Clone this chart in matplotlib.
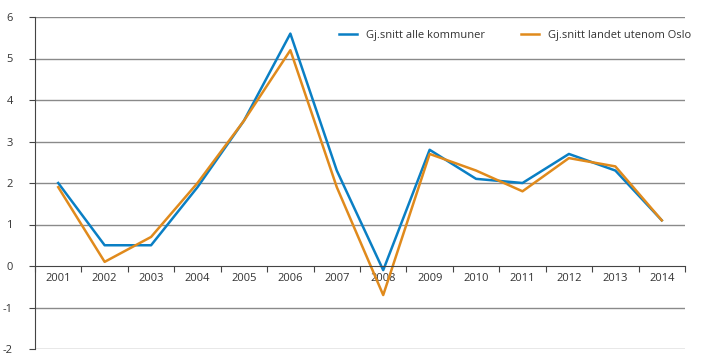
import matplotlib.pyplot as plt
import numpy as np

years = ['2001', '2002', '2003', '2004', '2005', '2006', '2007',
         '2008', '2009', '2010', '2011', '2012', '2013', '2014']
alle = [2.0, 0.5, 0.5, 1.9, 3.5, 5.6, 2.3, -0.1, 2.8, 2.1, 2.0, 2.7, 2.3, 1.1]
utenom_oslo = [1.9, 0.1, 0.7, 2.0, 3.5, 5.2, 1.9, -0.7, 2.7, 2.3, 1.8, 2.6, 2.4, 1.1]

plt.rcParams['font.family'] = ['Open Sans', 'DejaVu Sans']
plt.rcParams['axes.unicode_minus'] = False

fig = plt.figure(figsize=(7.19, 3.62), dpi=100)
ax = fig.add_axes([35 / 719, 13 / 362, 650 / 719, 332 / 362])

x = np.arange(len(years)) + 0.5
ax.plot(x, alle, color='#0a7fc4', lw=1.8, label='Gj.snitt alle kommuner')
ax.plot(x, utenom_oslo, color='#e08a1c', lw=1.8, label='Gj.snitt landet utenom Oslo')

ax.set_xlim(0, len(years))
ax.set_ylim(-2, 6)
ax.set_yticks(range(-2, 7))
ax.tick_params(axis='y', length=4, width=0.8, color='#444444', labelsize=8,
               labelcolor='#333333', pad=12)
for v in range(-2, 7):
    if v != 0:
        ax.axhline(v, color='#8a8a8a', lw=1, zorder=0)

# category axis drawn at zero
ax.spines['bottom'].set_position(('data', 0))
ax.spines['bottom'].set_color('#444444')
ax.spines['left'].set_color('#444444')
ax.spines['top'].set_visible(False)
ax.spines['right'].set_visible(False)
ax.set_xticks(np.arange(len(years) + 1))
ax.set_xticklabels([])
ax.set_xticks(x, minor=True)
ax.set_xticklabels(years, minor=True)
ax.tick_params(axis='x', which='major', length=4, width=0.8, color='#444444')
ax.tick_params(axis='x', which='minor', length=0, labelsize=8,
               labelcolor='#333333', pad=5)

ax.legend(loc='upper right', bbox_to_anchor=(1.025, 0.99), ncol=2, frameon=False,
          fontsize=8, handlelength=1.6, columnspacing=3.3, labelcolor='#333333')

fig.savefig('out.png', dpi=100)
